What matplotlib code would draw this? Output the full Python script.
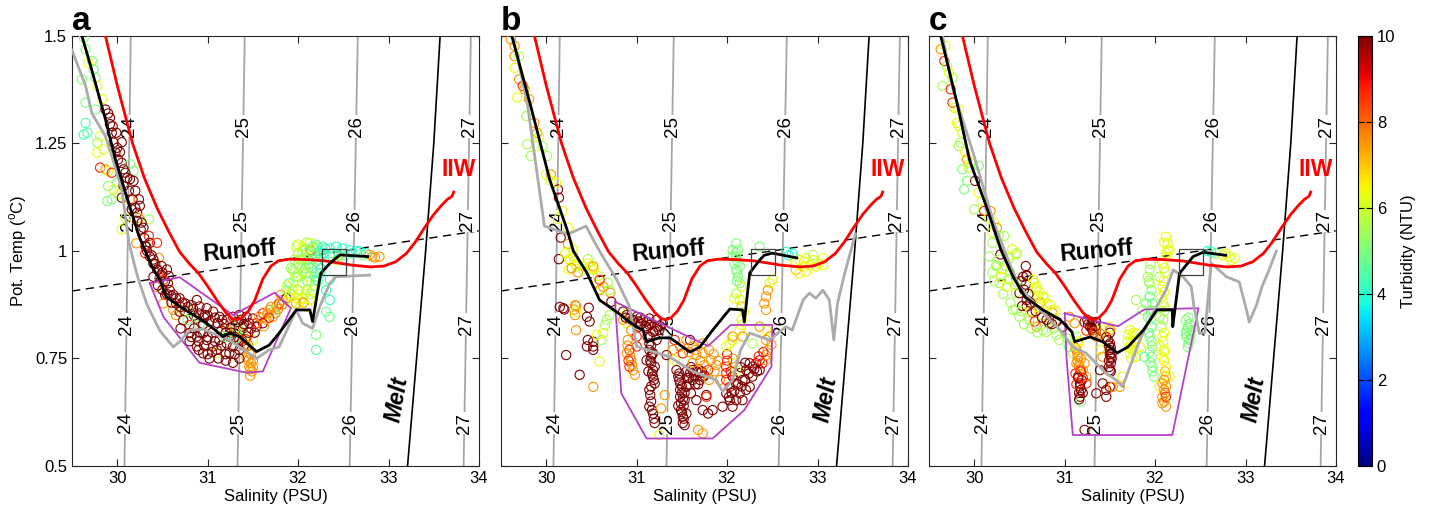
import matplotlib.pyplot as plt
import numpy as np
from matplotlib import cm, colors
from matplotlib.patches import Rectangle

plt.rcParams['font.family'] = ['Liberation Sans', 'DejaVu Sans']

# sigma-t isopycnals: salinity at 0.5 degC and at 1.5 degC
sigma_levels = [24, 25, 26, 27]
sigma_sal_cold = [30.08, 31.33, 32.57, 33.83]
sigma_sal_warm = [30.15, 31.41, 32.66, 33.91]
sigma_label_temps = [1.29, 1.07, 0.83, 0.60]

# runoff mixing line and meltwater line
runoff_line = [(29.5, 0.907), (34.0, 1.047)]
melt_line = [(33.21, 0.5), (33.31, 0.75), (33.41, 1.0), (33.5, 1.25), (33.57, 1.5)]

# IIW reference profile (same in every panel)
iiw_line = [(29.87, 1.5), (30.0, 1.385), (30.17, 1.25), (30.3, 1.17), (30.44, 1.10),
            (30.57, 1.045), (30.69, 0.998), (30.8, 0.97), (30.9, 0.948), (31.0, 0.918),
            (31.1, 0.886), (31.2, 0.857), (31.27, 0.843), (31.32, 0.84), (31.38, 0.845),
            (31.45, 0.86), (31.52, 0.885), (31.61, 0.935), (31.7, 0.965), (31.78, 0.977),
            (31.9, 0.981), (32.1, 0.98), (32.3, 0.977), (32.45, 0.972), (32.6, 0.967),
            (32.8, 0.963), (32.95, 0.965), (33.08, 0.975), (33.2, 0.995), (33.3, 1.022),
            (33.4, 1.055), (33.5, 1.085), (33.58, 1.105), (33.65, 1.12), (33.7, 1.127),
            (33.72, 1.137)]

# box around the offshore end member
box_sal = (32.26, 32.53)
box_temp = (0.944, 1.004)

# ---- panel a ----
mean_a = [(29.61, 1.5), (29.72, 1.42), (29.87, 1.306), (29.98, 1.213), (30.09, 1.136),
          (30.24, 1.035), (30.38, 0.965), (30.47, 0.934), (30.54, 0.894), (30.69, 0.871),
          (30.99, 0.832), (31.17, 0.801), (31.24, 0.809), (31.35, 0.801), (31.54, 0.766),
          (31.68, 0.781), (31.79, 0.809), (31.98, 0.863), (32.13, 0.863), (32.16, 0.836),
          (32.25, 0.948), (32.35, 0.971), (32.46, 0.991), (32.77, 0.987)]
prior_a = [(29.5, 1.467), (29.65, 1.384), (29.72, 1.32), (29.87, 1.267), (29.94, 1.221),
           (30.05, 1.143), (30.09, 1.081), (30.13, 1.019), (30.2, 0.96), (30.24, 0.93),
           (30.33, 0.875), (30.47, 0.815), (30.62, 0.777), (30.69, 0.789), (30.8, 0.816),
           (30.95, 0.818), (31.24, 0.793), (31.54, 0.75), (31.68, 0.77), (31.79, 0.777),
           (31.98, 0.863), (32.05, 0.832), (32.16, 0.82), (32.24, 0.871), (32.35, 0.925),
           (32.42, 0.94), (32.79, 0.944)]
hull_a = [(30.36, 0.925), (30.69, 0.939), (31.28, 0.851), (31.74, 0.903), (31.92, 0.867),
          (31.61, 0.72), (31.43, 0.717), (30.91, 0.74), (30.51, 0.847), (30.36, 0.925)]
obs_a = [
    (29.63, 1.496, 5.0), (29.65, 1.469, 5.0), (29.72, 1.442, 5.0), (29.68, 1.438, 6.3),
    (29.74, 1.422, 4.8), (29.76, 1.403, 5.0), (29.61, 1.399, 5.0), (29.78, 1.384, 6.3),
    (29.83, 1.353, 6.3), (29.65, 1.345, 5.0), (29.76, 1.329, 5.0), (29.87, 1.329, 10),
    (29.92, 1.31, 10), (29.65, 1.298, 4.5), (29.67, 1.275, 4.5), (29.63, 1.271, 4.3),
    (29.92, 1.295, 10), (29.94, 1.275, 10), (29.81, 1.267, 6.3), (29.99, 1.275, 10),
    (30.05, 1.253, 10), (29.78, 1.252, 5.2), (29.96, 1.252, 10), (29.78, 1.229, 6.3),
    (29.85, 1.236, 6.2), (29.98, 1.229, 9.8), (30.01, 1.213, 10), (30.05, 1.205, 10),
    (30.14, 1.202, 5.0), (29.81, 1.194, 8.7), (29.87, 1.19, 7.5), (29.9, 1.186, 6.3),
    (29.94, 1.182, 8.7), (30.18, 1.186, 5.0), (30.09, 1.182, 10), (30.14, 1.167, 10),
    (30.18, 1.163, 10), (30.0, 1.159, 5.0), (29.9, 1.151, 5.2), (30.07, 1.151, 10),
    (29.96, 1.143, 6.3), (30.2, 1.14, 10), (30.01, 1.132, 6.3), (29.89, 1.116, 5.0),
    (30.05, 1.124, 10), (30.24, 1.12, 10), (29.94, 1.12, 5.0), (30.14, 1.12, 7.5),
    (30.25, 1.105, 10), (30.16, 1.097, 10), (30.22, 1.089, 10), (30.24, 1.077, 7.5),
    (30.09, 1.077, 6.3), (30.35, 1.074, 5.5), (30.27, 1.066, 10), (30.05, 1.05, 6.3),
    (30.29, 1.054, 10), (30.35, 1.035, 8.7), (30.36, 1.019, 10), (30.44, 1.019, 8.7),
    (30.31, 1.012, 10), (30.46, 0.984, 7.5), (30.4, 0.98, 10), (30.49, 0.965, 10),
    (30.55, 0.957, 10), (30.44, 0.957, 10), (30.57, 0.942, 10), (30.47, 0.938, 8.7),
    (30.0, 1.24, 10), (30.03, 1.23, 10), (30.07, 1.19, 10), (30.11, 1.17, 10),
    (30.13, 1.14, 10), (30.17, 1.12, 10), (30.2, 1.1, 10), (30.22, 1.07, 10),
    (30.26, 1.05, 10), (30.3, 1.03, 10), (30.33, 1.0, 10), (30.38, 0.99, 10),
    (30.42, 0.97, 10), (30.5, 0.95, 10), (30.53, 0.93, 10), (29.95, 1.29, 10),
    (29.9, 1.32, 10),
    (30.21, 1.018, 7.5), (30.32, 1.01, 10), (30.31, 0.995, 8.7), (30.36, 0.987, 10),
    (30.4, 0.971, 10), (30.45, 0.956, 10), (30.49, 0.944, 10), (30.51, 0.933, 8.7),
    (30.56, 0.925, 10), (30.43, 0.917, 7.5), (30.58, 0.909, 10), (30.53, 0.898, 10),
    (30.62, 0.898, 10), (30.69, 0.89, 10), (30.65, 0.878, 10), (30.75, 0.878, 10),
    (30.51, 0.878, 7.5), (30.82, 0.874, 10), (30.88, 0.886, 10), (30.91, 0.871, 10),
    (30.62, 0.863, 7.5), (30.69, 0.859, 10), (30.78, 0.859, 5.0), (30.99, 0.867, 10),
    (31.06, 0.859, 10), (30.97, 0.851, 10), (30.65, 0.851, 7.5), (30.88, 0.843, 10),
    (30.73, 0.839, 10), (31.13, 0.847, 10), (31.02, 0.836, 10), (30.8, 0.828, 8.7),
    (30.91, 0.828, 5.0), (31.11, 0.832, 10), (31.21, 0.84, 10), (31.28, 0.847, 10),
    (31.35, 0.851, 10), (31.43, 0.847, 10), (31.5, 0.843, 10), (31.46, 0.832, 10),
    (31.39, 0.824, 10), (31.28, 0.828, 7.5), (31.32, 0.816, 5.0), (31.21, 0.82, 7.5),
    (31.54, 0.824, 10), (30.8, 0.809, 10), (30.88, 0.801, 10), (30.95, 0.809, 10),
    (30.99, 0.793, 10), (30.88, 0.778, 10), (30.95, 0.762, 10), (31.06, 0.778, 10),
    (31.1, 0.762, 6.3), (31.02, 0.75, 10), (31.13, 0.793, 10), (31.21, 0.785, 10),
    (31.24, 0.801, 10), (31.28, 0.778, 10), (31.35, 0.793, 10), (31.35, 0.77, 10),
    (31.24, 0.762, 10), (31.43, 0.801, 10), (31.43, 0.778, 10), (31.46, 0.762, 7.5),
    (31.45, 0.746, 7.5), (31.46, 0.731, 7.5), (31.48, 0.739, 7.5), (31.43, 0.754, 7.5),
    (31.47, 0.725, 7.5), (31.5, 0.793, 6.3), (31.39, 0.809, 6.3), (31.35, 0.816, 5.0),
    (30.75, 0.86, 10), (30.85, 0.85, 10), (30.95, 0.83, 10), (31.05, 0.81, 10),
    (31.15, 0.815, 10), (31.25, 0.82, 10), (31.3, 0.8, 10), (31.4, 0.78, 10),
    (31.45, 0.81, 10), (31.1, 0.77, 10), (30.9, 0.79, 10), (30.8, 0.79, 10),
    (30.7, 0.82, 10), (31.0, 0.76, 10), (31.2, 0.76, 10), (31.3, 0.76, 10),
    (30.6, 0.88, 10), (30.7, 0.87, 10),
    (30.4, 0.94, 10), (30.45, 0.92, 10), (30.5, 0.91, 10), (30.55, 0.9, 10),
    (30.6, 0.895, 10), (30.65, 0.89, 10), (30.72, 0.88, 10), (30.78, 0.87, 10),
    (30.84, 0.865, 10), (30.9, 0.855, 10), (30.96, 0.845, 10), (31.0, 0.85, 10),
    (31.08, 0.845, 10), (31.16, 0.84, 10), (31.18, 0.83, 10), (31.2, 0.81, 10),
    (31.26, 0.81, 10), (31.33, 0.835, 10), (31.37, 0.84, 10), (31.4, 0.83, 10),
    (31.48, 0.82, 10), (31.52, 0.81, 10), (30.85, 0.82, 10), (30.92, 0.81, 10),
    (31.0, 0.8, 10), (31.08, 0.79, 10), (31.15, 0.78, 10), (30.82, 0.8, 10),
    (30.9, 0.77, 10), (30.96, 0.78, 10), (31.05, 0.765, 10), (31.12, 0.75, 10),
    (31.2, 0.745, 10), (31.28, 0.74, 10), (31.35, 0.75, 10), (31.38, 0.79, 10),
    (31.42, 0.795, 8.7), (31.45, 0.78, 7.5), (31.48, 0.76, 7.5), (31.5, 0.745, 7.5),
    (31.5, 0.73, 7.5), (31.49, 0.72, 7.5), (31.47, 0.71, 7.5),
    (31.2, 0.8, 5.0), (31.3, 0.795, 5.0), (30.78, 0.84, 5.0),
    (31.57, 0.847, 7.5), (31.61, 0.855, 8.7), (31.65, 0.84, 7.5), (31.68, 0.863, 7.5),
    (31.72, 0.847, 7.5), (31.76, 0.871, 7.5), (31.79, 0.878, 8.7), (31.83, 0.886, 7.5),
    (31.61, 0.832, 10), (31.54, 0.832, 8.7), (31.74, 0.863, 5.0), (31.87, 0.89, 10),
    (31.81, 0.898, 7.5), (31.6, 0.845, 7.5), (31.66, 0.855, 7.5), (31.7, 0.87, 7.5),
    (31.78, 0.865, 7.5), (31.82, 0.875, 8.0), (31.75, 0.855, 7.5), (31.62, 0.825, 7.5),
    (31.68, 0.845, 8.7),
    (31.9, 0.894, 6.3), (31.94, 0.909, 6.3), (31.98, 0.878, 7.5), (32.02, 0.886, 6.3),
    (31.87, 0.909, 5.0), (31.9, 0.925, 5.0), (31.98, 0.94, 5.0), (32.05, 0.925, 6.3),
    (31.94, 0.956, 5.2), (32.02, 0.964, 6.3), (32.09, 0.948, 5.2), (32.05, 0.979, 6.3),
    (32.13, 0.971, 5.0), (32.16, 0.909, 6.3), (32.13, 0.886, 6.3), (32.2, 0.933, 4.5),
    (32.05, 1.01, 6.3), (32.13, 1.018, 6.3), (32.2, 1.01, 5.0), (32.09, 0.995, 5.0),
    (32.18, 0.991, 6.3), (32.14, 1.002, 8.7), (32.0, 0.995, 5.5), (32.1, 0.98, 5.5),
    (32.15, 0.96, 6.0), (32.0, 0.94, 5.5), (32.05, 0.95, 6.0), (32.1, 0.93, 5.0),
    (31.95, 0.93, 6.0), (32.2, 0.975, 4.5), (32.25, 0.99, 4.2), (32.2, 0.95, 4.5),
    (32.25, 0.96, 4.3), (32.3, 0.975, 4.2), (31.92, 0.9, 6.0), (32.0, 0.91, 5.5),
    (32.08, 0.9, 6.0), (31.97, 0.89, 6.3), (32.05, 1.0, 5.5), (32.15, 1.0, 5.5),
    (32.12, 0.94, 5.8), (32.18, 0.92, 5.5), (32.1, 1.02, 5.5), (32.2, 1.015, 5.0),
    (32.0, 1.015, 6.0),
    (31.88, 0.92, 6.0), (31.92, 0.96, 5.5), (31.96, 0.98, 5.5), (32.0, 0.97, 5.0),
    (32.04, 0.96, 5.5), (32.08, 0.96, 5.0), (32.12, 0.97, 5.0), (32.16, 0.98, 4.8),
    (32.2, 0.99, 4.5), (32.24, 1.0, 4.3), (32.28, 0.995, 4.2), (32.3, 1.005, 4.0),
    (32.0, 0.9, 6.3), (32.04, 0.89, 6.3), (32.06, 0.88, 7.5), (31.94, 0.88, 6.3),
    (32.1, 0.91, 5.5), (32.14, 0.9, 5.5), (32.18, 0.94, 4.8), (32.22, 0.93, 4.5),
    (32.1, 0.87, 6.3), (31.96, 0.95, 5.8), (32.02, 0.98, 5.5), (32.16, 1.01, 5.0),
    (32.08, 1.005, 5.5), (31.98, 1.01, 6.0),
    (32.27, 1.01, 4.2), (32.35, 1.006, 4.2), (32.42, 1.01, 4.2), (32.49, 1.006, 4.0),
    (32.57, 1.002, 4.0), (32.68, 0.999, 4.0), (32.75, 0.995, 4.0), (32.35, 0.987, 4.8),
    (32.42, 0.979, 6.3), (32.49, 0.979, 7.5), (32.82, 0.987, 7.5), (32.9, 0.987, 7.5),
    (32.79, 0.991, 7.5), (32.35, 0.933, 4.2), (32.35, 0.886, 4.2), (32.31, 0.859, 4.8),
    (32.35, 0.847, 4.8), (32.2, 0.805, 5.0), (32.2, 0.77, 4.5), (32.24, 0.948, 4.2),
    (32.31, 0.909, 4.2), (32.38, 0.995, 4.2), (32.45, 0.99, 4.5), (32.52, 0.99, 5.0),
    (32.6, 0.995, 4.0), (32.64, 1.0, 4.0), (32.72, 0.99, 5.0), (32.85, 0.985, 7.5),
]

# ---- panel b ----
mean_b = [(29.62, 1.5), (29.82, 1.344), (30.04, 1.165), (30.23, 1.05), (30.3, 1.0),
          (30.45, 0.949), (30.59, 0.886), (30.78, 0.858), (31.0, 0.823), (31.07, 0.816),
          (31.11, 0.789), (31.25, 0.798), (31.37, 0.798), (31.59, 0.765), (31.7, 0.777),
          (31.84, 0.816), (32.03, 0.865), (32.17, 0.863), (32.19, 0.835), (32.25, 0.949),
          (32.36, 0.979), (32.41, 0.99), (32.5, 0.995), (32.77, 0.984)]
prior_b = [(29.63, 1.5), (29.79, 1.345), (29.98, 1.058), (30.24, 1.039), (30.44, 1.058),
           (30.52, 1.026), (30.6, 0.996), (30.78, 0.933), (30.92, 0.871), (31.0, 0.778),
           (31.36, 0.754), (31.62, 0.72), (31.88, 0.70), (31.95, 0.673), (32.06, 0.70),
           (32.15, 0.77), (32.25, 0.809), (32.36, 0.801), (32.47, 0.793), (32.65, 0.824),
           (32.72, 0.816), (32.84, 0.886), (32.91, 0.902), (32.98, 0.89), (33.06, 0.909),
           (33.13, 0.886), (33.18, 0.793), (33.22, 0.878), (33.3, 0.948), (33.37, 1.002),
           (33.42, 1.04)]
hull_b = [(30.76, 0.882), (30.83, 0.669), (31.11, 0.564), (31.84, 0.564), (32.19, 0.63),
          (32.49, 0.731), (32.5, 0.828), (32.04, 0.828), (31.79, 0.779), (30.76, 0.882)]
obs_b = [
    (29.61, 1.492, 7.5), (29.65, 1.477, 7.5), (29.65, 1.453, 7.5), (29.7, 1.453, 5.5),
    (29.65, 1.426, 6.3), (29.7, 1.399, 7.5), (29.74, 1.384, 8.7), (29.76, 1.376, 7.5),
    (29.68, 1.357, 6.3), (29.81, 1.353, 7.5), (29.78, 1.314, 5.5), (29.87, 1.298, 7.5),
    (29.9, 1.275, 7.5), (29.92, 1.267, 6.3), (29.79, 1.248, 5.5), (29.89, 1.244, 6.3),
    (29.96, 1.244, 5.5), (29.83, 1.221, 5.5), (30.01, 1.221, 5.5), (30.0, 1.178, 6.3),
    (30.05, 1.178, 7.5), (30.05, 1.163, 6.3), (30.13, 1.143, 10), (30.11, 1.159, 6.3),
    (30.14, 1.124, 9.8), (30.18, 1.093, 6.3), (30.13, 1.074, 6.3), (30.24, 1.054, 6.3),
    (30.16, 1.031, 10), (30.24, 1.016, 7.5), (30.29, 1.004, 6.3), (30.14, 0.981, 10),
    (30.25, 0.981, 6.3), (30.31, 0.977, 6.3), (30.46, 0.981, 5.5), (30.25, 0.957, 6.3),
    (30.4, 0.965, 6.3), (30.49, 0.965, 6.3), (30.53, 0.957, 6.3), (30.35, 0.95, 7.5),
    (30.57, 0.942, 6.3), (30.68, 0.926, 5.5), (30.6, 0.911, 6.3), (30.71, 0.903, 7.5),
    (30.2, 0.864, 10), (30.33, 0.872, 7.5), (30.31, 0.864, 7.5), (30.47, 0.868, 10),
    (30.21, 0.995, 6.3), (30.26, 0.979, 6.3), (30.3, 0.987, 6.3), (30.33, 0.964, 6.3),
    (30.28, 0.96, 7.5), (30.41, 0.956, 5.5), (30.46, 0.971, 6.3), (30.52, 0.964, 7.5),
    (30.52, 0.94, 6.3), (30.59, 0.933, 8.7), (30.63, 0.917, 7.5), (30.59, 0.909, 7.5),
    (30.7, 0.909, 5.5), (30.72, 0.882, 10), (30.19, 0.867, 10), (30.15, 0.87, 10),
    (30.32, 0.874, 7.5), (30.32, 0.851, 7.5), (30.33, 0.859, 6.3), (30.45, 0.847, 10),
    (30.48, 0.836, 10), (30.65, 0.828, 5.5), (30.67, 0.84, 5.5), (30.7, 0.851, 5.5),
    (30.33, 0.816, 7.5), (30.46, 0.793, 10), (30.52, 0.789, 10), (30.45, 0.778, 10),
    (30.52, 0.778, 10), (30.52, 0.77, 10), (30.22, 0.758, 10), (30.63, 0.809, 6.3),
    (30.56, 0.805, 6.3), (30.61, 0.793, 5.5), (30.59, 0.743, 6.3), (30.37, 0.712, 10),
    (30.52, 0.684, 7.5),
    (30.81, 0.867, 6.3), (30.85, 0.859, 10), (30.89, 0.851, 10), (30.92, 0.843, 10),
    (30.96, 0.839, 10), (31.02, 0.836, 10), (31.07, 0.839, 10), (31.11, 0.836, 10),
    (31.14, 0.828, 10), (31.22, 0.824, 10), (31.25, 0.816, 10), (31.11, 0.82, 10),
    (31.18, 0.812, 10), (31.03, 0.824, 10), (31.0, 0.847, 10), (31.14, 0.843, 10),
    (31.22, 0.84, 10), (31.29, 0.832, 10), (30.89, 0.832, 6.3), (30.94, 0.816, 7.5),
    (30.85, 0.84, 7.5), (30.88, 0.845, 10), (30.95, 0.84, 10), (31.05, 0.83, 10),
    (31.1, 0.825, 10), (31.16, 0.83, 10), (31.2, 0.815, 10), (31.26, 0.825, 10),
    (31.04, 0.845, 10),
    (30.9, 0.793, 7.5), (30.92, 0.77, 8.7), (30.94, 0.746, 7.5), (30.96, 0.723, 7.5),
    (30.98, 0.712, 7.5), (30.92, 0.731, 8.7), (30.89, 0.762, 7.5), (31.0, 0.801, 8.7),
    (31.0, 0.778, 8.7), (30.9, 0.78, 7.5), (30.93, 0.755, 7.5), (30.95, 0.735, 7.5),
    (30.91, 0.745, 8.7),
    (31.12, 0.801, 10), (31.14, 0.785, 10), (31.14, 0.77, 10), (31.16, 0.754, 10),
    (31.16, 0.739, 10), (31.18, 0.723, 10), (31.18, 0.708, 10), (31.2, 0.692, 10),
    (31.22, 0.793, 10), (31.18, 0.762, 10), (31.11, 0.746, 10), (31.2, 0.731, 10),
    (31.14, 0.677, 10), (31.14, 0.638, 10), (31.18, 0.622, 10), (31.2, 0.6, 10),
    (31.15, 0.8, 10), (31.16, 0.78, 10), (31.17, 0.76, 10), (31.15, 0.745, 10),
    (31.17, 0.715, 10), (31.19, 0.7, 10), (31.16, 0.685, 10), (31.15, 0.665, 10),
    (31.16, 0.65, 10), (31.17, 0.63, 10), (31.19, 0.61, 10), (31.13, 0.72, 10),
    (31.31, 0.665, 7.5), (31.27, 0.634, 7.5), (31.33, 0.758, 10),
    (31.42, 0.793, 8.7), (31.4, 0.77, 7.5), (31.42, 0.746, 6.3), (31.44, 0.723, 10),
    (31.46, 0.708, 10), (31.48, 0.692, 10), (31.48, 0.677, 10), (31.48, 0.661, 10),
    (31.49, 0.646, 10), (31.49, 0.63, 10), (31.51, 0.615, 10), (31.51, 0.6, 10),
    (31.55, 0.622, 10), (31.53, 0.653, 10), (31.55, 0.684, 10), (31.59, 0.716, 10),
    (31.47, 0.7, 10), (31.5, 0.685, 10), (31.5, 0.67, 10), (31.51, 0.655, 10),
    (31.52, 0.64, 10), (31.5, 0.625, 10), (31.52, 0.61, 10), (31.53, 0.595, 10),
    (31.47, 0.715, 10), (31.53, 0.67, 10), (31.46, 0.64, 10), (31.56, 0.705, 10),
    (31.58, 0.69, 10),
    (31.55, 0.72, 10), (31.62, 0.723, 10), (31.66, 0.72, 10), (31.7, 0.716, 10),
    (31.7, 0.7, 10), (31.73, 0.708, 10), (31.62, 0.7, 10), (31.6, 0.669, 10),
    (31.66, 0.653, 10), (31.73, 0.63, 10), (31.79, 0.622, 10), (31.84, 0.63, 10),
    (31.77, 0.665, 10), (31.77, 0.661, 8.7), (31.6, 0.73, 10), (31.64, 0.71, 10),
    (31.68, 0.725, 10), (31.72, 0.72, 10), (31.68, 0.69, 10), (31.65, 0.69, 10),
    (31.75, 0.71, 10), (31.58, 0.705, 10),
    (31.48, 0.778, 7.5), (31.51, 0.762, 9.0), (31.55, 0.793, 7.5), (31.59, 0.793, 10),
    (31.62, 0.778, 7.5), (31.66, 0.758, 7.5), (31.73, 0.762, 7.5), (31.73, 0.785, 7.5),
    (31.8, 0.77, 7.5), (31.82, 0.746, 7.5), (31.88, 0.735, 7.5), (31.79, 0.723, 8.7),
    (31.86, 0.72, 7.5), (31.92, 0.7, 7.5), (31.8, 0.7, 7.5), (31.68, 0.584, 7.5),
    (31.73, 0.576, 7.5), (31.25, 0.572, 6.3), (31.58, 0.765, 7.5), (31.65, 0.77, 7.5),
    (31.7, 0.745, 7.5), (31.75, 0.735, 7.5), (31.85, 0.76, 7.5), (31.9, 0.745, 7.5),
    (31.62, 0.74, 7.5),
    (31.99, 0.731, 8.7), (31.99, 0.716, 8.7), (31.99, 0.7, 8.7), (32.03, 0.684, 9.0),
    (31.99, 0.669, 10), (32.03, 0.653, 10), (31.95, 0.638, 10), (32.06, 0.708, 10),
    (32.1, 0.692, 10), (32.14, 0.716, 10), (32.17, 0.7, 10), (32.14, 0.669, 10),
    (32.17, 0.653, 10), (32.1, 0.653, 10), (32.06, 0.638, 10), (32.21, 0.723, 10),
    (32.25, 0.739, 10), (32.28, 0.731, 10), (32.32, 0.739, 9.0), (32.36, 0.746, 9.0),
    (32.39, 0.739, 9.0), (32.43, 0.746, 7.5), (32.36, 0.723, 10), (32.28, 0.708, 10),
    (32.25, 0.684, 10), (32.21, 0.677, 10), (32.43, 0.758, 7.5), (32.1, 0.723, 6.3),
    (32.06, 0.739, 6.3), (32.06, 0.75, 7.5), (32.02, 0.66, 10), (32.05, 0.67, 10),
    (32.08, 0.675, 10), (32.12, 0.69, 10), (32.16, 0.685, 10), (32.2, 0.7, 10),
    (32.24, 0.715, 10), (32.3, 0.725, 10), (32.33, 0.72, 10), (32.2, 0.74, 10),
    (32.15, 0.73, 10), (32.04, 0.72, 9.0), (32.0, 0.745, 8.7), (32.0, 0.76, 8.7),
    (32.35, 0.755, 8.7), (32.4, 0.765, 9.0), (32.45, 0.77, 7.5),
    (31.99, 0.778, 6.3), (32.03, 0.785, 6.3), (32.06, 0.793, 6.3), (32.06, 0.801, 7.5),
    (32.14, 0.816, 6.3), (32.17, 0.801, 7.5), (32.16, 0.828, 6.3), (32.28, 0.785, 5.5),
    (32.36, 0.824, 7.5), (32.43, 0.816, 6.3), (32.47, 0.801, 7.5), (32.43, 0.793, 7.5),
    (32.49, 0.782, 7.5),
    (32.1, 1.018, 5.0), (32.12, 1.002, 5.0), (32.1, 0.987, 5.0), (32.08, 0.971, 5.0),
    (32.14, 0.964, 5.0), (32.1, 0.956, 5.0), (32.12, 0.94, 5.0), (32.14, 0.925, 5.3),
    (32.16, 0.917, 6.3), (32.1, 0.901, 5.5), (32.08, 0.89, 6.3), (32.14, 0.886, 6.3),
    (32.16, 0.871, 7.0), (32.19, 0.859, 6.3), (32.16, 0.84, 6.3), (32.06, 1.002, 5.0),
    (32.06, 0.987, 5.0), (32.1, 0.995, 5.0), (32.12, 0.975, 5.0), (32.11, 0.95, 5.0),
    (32.11, 0.93, 5.0),
    (32.5, 0.933, 6.3), (32.47, 0.925, 6.3), (32.45, 0.909, 7.5), (32.43, 0.894, 7.5),
    (32.41, 0.878, 7.5), (32.43, 0.863, 7.5), (32.36, 1.01, 5.0),
    (32.65, 0.998, 4.0), (32.72, 0.994, 4.0), (32.8, 0.979, 6.3), (32.87, 0.983, 6.3),
    (32.95, 0.979, 6.3), (33.02, 0.971, 6.3), (32.84, 0.964, 6.5), (32.76, 0.956, 7.0),
    (32.8, 0.948, 6.5), (32.91, 0.967, 6.3), (32.98, 0.964, 6.3), (33.06, 0.967, 6.3),
    (32.95, 0.991, 5.5), (33.06, 0.983, 6.3), (32.87, 0.952, 6.5), (32.68, 0.99, 4.0),
    (32.75, 0.975, 6.3), (32.85, 0.975, 6.3),
]

# ---- panel c ----
mean_c = [(29.63, 1.5), (29.81, 1.344), (29.95, 1.21), (30.14, 1.10), (30.3, 1.0),
          (30.43, 0.94), (30.56, 0.893), (30.76, 0.863), (30.95, 0.84), (31.08, 0.812),
          (31.11, 0.789), (31.28, 0.80), (31.42, 0.789), (31.58, 0.763), (31.7, 0.777),
          (31.87, 0.816), (32.02, 0.863), (32.19, 0.863), (32.195, 0.824), (32.27, 0.948),
          (32.42, 0.987), (32.53, 0.997), (32.78, 0.99)]
prior_c = [(29.65, 1.5), (29.76, 1.38), (29.99, 1.227), (30.21, 1.07), (30.39, 0.971),
           (30.5, 0.916), (30.73, 0.863), (30.95, 0.816), (31.09, 0.777), (31.24, 0.762),
           (31.39, 0.73), (31.46, 0.715), (31.57, 0.70), (31.64, 0.684), (31.72, 0.73),
           (31.83, 0.793), (31.975, 0.855), (32.12, 0.909), (32.2, 0.956), (32.31, 0.94),
           (32.4, 0.917), (32.43, 0.87), (32.49, 0.808), (32.55, 0.81), (32.62, 0.972),
           (32.79, 0.94), (32.93, 0.928), (33.01, 0.863), (33.04, 0.835), (33.12, 0.874),
           (33.18, 0.916), (33.26, 0.956), (33.34, 1.0)]
hull_c = [(31.0, 0.855), (31.02, 0.753), (31.09, 0.572), (32.19, 0.572), (32.48, 0.867),
          (31.88, 0.864), (31.59, 0.825), (31.0, 0.855)]
obs_c = [
    (29.63, 1.469, 7.5), (29.68, 1.477, 6.3), (29.67, 1.442, 8.7), (29.7, 1.43, 5.5),
    (29.72, 1.415, 6.3), (29.76, 1.403, 5.5), (29.65, 1.384, 5.5), (29.74, 1.376, 8.7),
    (29.76, 1.345, 8.7), (29.78, 1.333, 6.3), (29.83, 1.329, 6.3), (29.81, 1.298, 6.3),
    (29.83, 1.291, 6.3), (29.87, 1.275, 6.3), (29.85, 1.252, 5.5), (29.83, 1.244, 5.5),
    (29.9, 1.229, 6.3), (29.92, 1.213, 7.5), (29.96, 1.205, 6.3), (29.94, 1.194, 6.3),
    (29.87, 1.19, 5.0), (30.05, 1.198, 5.0), (30.01, 1.163, 10), (29.92, 1.163, 5.0),
    (29.89, 1.143, 5.0), (30.05, 1.136, 6.3), (30.09, 1.116, 6.3), (30.0, 1.097, 5.5),
    (30.11, 1.093, 8.7), (30.18, 1.093, 7.5), (30.16, 1.078, 6.3), (30.22, 1.066, 6.3),
    (30.2, 1.043, 6.3), (30.25, 1.054, 7.5), (30.27, 1.035, 5.5), (30.33, 1.035, 5.5),
    (30.2, 1.019, 5.5), (30.29, 0.992, 10), (30.42, 1.004, 6.3), (30.46, 0.992, 6.3),
    (30.38, 0.988, 6.3), (30.24, 0.965, 5.5), (30.31, 0.957, 6.3), (30.35, 0.965, 5.5),
    (30.57, 0.965, 10), (30.58, 0.942, 10), (30.57, 0.922, 10), (30.66, 0.926, 6.3),
    (30.68, 0.911, 6.3), (30.71, 0.895, 6.3), (30.73, 0.88, 7.5), (30.46, 0.903, 5.5),
    (30.38, 0.934, 5.5), (30.46, 0.864, 5.5), (30.6, 0.895, 5.5), (30.64, 0.857, 8.7),
    (30.53, 0.872, 10), (30.86, 0.857, 7.5),
    (30.25, 0.967, 5.5), (30.17, 0.987, 5.5), (30.39, 0.983, 5.5), (30.47, 0.995, 5.5),
    (30.28, 0.925, 5.5), (30.36, 0.917, 6.3), (30.47, 0.929, 5.5), (30.54, 0.94, 10),
    (30.58, 0.944, 10), (30.5, 0.902, 10), (30.58, 0.886, 10), (30.58, 0.871, 10),
    (30.65, 0.933, 6.3), (30.69, 0.917, 6.3), (30.76, 0.894, 6.3), (30.8, 0.878, 6.3),
    (30.87, 0.863, 6.3), (30.43, 0.863, 5.5), (30.5, 0.847, 5.5), (30.61, 0.84, 5.5),
    (30.69, 0.824, 7.5), (30.76, 0.816, 5.5), (30.83, 0.832, 10), (30.8, 0.812, 5.5),
    (30.91, 0.805, 5.5), (30.94, 0.793, 5.5), (30.67, 0.836, 8.7), (30.91, 0.836, 10),
    (30.98, 0.824, 10), (31.05, 0.847, 7.5), (31.02, 0.797, 5.5), (31.05, 0.777, 4.5),
    (30.2, 0.95, 5.5), (30.22, 0.93, 5.5), (30.3, 0.94, 6.3), (30.32, 0.9, 5.5),
    (30.4, 0.88, 5.5), (30.45, 0.92, 6.3), (30.52, 0.86, 5.5), (30.55, 0.83, 5.5),
    (30.62, 0.86, 6.3), (30.7, 0.87, 6.3), (30.75, 0.85, 5.5), (30.85, 0.84, 6.3),
    (30.88, 0.82, 5.5), (30.7, 0.81, 5.5), (30.63, 0.82, 5.5), (30.4, 0.95, 5.5),
    (30.28, 0.98, 5.5), (30.52, 0.93, 10), (30.55, 0.91, 10), (30.6, 0.9, 10),
    (30.62, 0.88, 10), (30.68, 0.86, 10), (30.75, 0.845, 10), (30.8, 0.84, 10),
    (30.86, 0.83, 10), (30.72, 0.905, 6.3), (30.78, 0.89, 6.3), (30.84, 0.875, 6.3),
    (30.9, 0.86, 6.3),
    (31.11, 0.832, 7.5), (31.13, 0.77, 7.5), (31.15, 0.754, 7.5), (31.13, 0.739, 7.5),
    (31.17, 0.723, 8.7), (31.15, 0.708, 10), (31.17, 0.692, 10), (31.18, 0.677, 10),
    (31.17, 0.661, 10), (31.18, 0.65, 5.0), (31.2, 0.723, 7.5), (31.22, 0.739, 7.5),
    (31.13, 0.801, 5.5), (31.09, 0.762, 5.5), (31.15, 0.785, 6.3), (31.24, 0.708, 7.5),
    (31.24, 0.692, 8.7), (31.22, 0.584, 10), (31.14, 0.745, 7.5), (31.16, 0.73, 7.5),
    (31.12, 0.715, 8.7), (31.19, 0.7, 10), (31.16, 0.67, 10), (31.14, 0.76, 7.5),
    (31.18, 0.75, 7.5), (31.16, 0.735, 7.5), (31.18, 0.72, 8.7), (31.15, 0.705, 10),
    (31.17, 0.685, 10), (31.16, 0.655, 10), (31.2, 0.67, 10), (31.13, 0.69, 8.7),
    (31.2, 0.705, 8.7), (31.12, 0.775, 7.5), (31.14, 0.79, 6.3),
    (31.28, 0.824, 10), (31.31, 0.816, 10), (31.35, 0.816, 7.5), (31.39, 0.808, 7.5),
    (31.42, 0.816, 6.3), (31.5, 0.824, 6.3), (31.35, 0.801, 7.5), (31.39, 0.77, 6.3),
    (31.42, 0.754, 7.5), (31.39, 0.723, 10), (31.42, 0.692, 10), (31.46, 0.677, 10),
    (31.5, 0.684, 10), (31.46, 0.661, 10), (31.35, 0.669, 10), (31.22, 0.835, 10),
    (31.26, 0.83, 10), (31.3, 0.82, 10), (31.24, 0.815, 8.7), (31.25, 0.84, 10),
    (31.3, 0.835, 10), (31.34, 0.825, 10), (31.32, 0.81, 8.7),
    (31.5, 0.785, 10), (31.5, 0.77, 10), (31.51, 0.754, 10), (31.51, 0.739, 10),
    (31.5, 0.723, 10), (31.48, 0.793, 10), (31.52, 0.762, 10), (31.49, 0.745, 10),
    (31.49, 0.78, 10), (31.51, 0.775, 10), (31.5, 0.76, 10), (31.52, 0.75, 10),
    (31.49, 0.73, 10), (31.51, 0.72, 10), (31.5, 0.81, 10), (31.46, 0.8, 10),
    (31.53, 0.684, 7.5), (31.61, 0.684, 7.5), (31.64, 0.708, 6.3), (31.5, 0.816, 7.5),
    (31.72, 0.816, 6.3), (31.75, 0.801, 6.3), (31.73, 0.785, 6.3), (31.75, 0.77, 6.3),
    (31.79, 0.808, 6.3), (31.83, 0.777, 6.3), (31.79, 0.754, 6.5), (31.72, 0.762, 6.3),
    (31.77, 0.79, 6.3), (31.74, 0.75, 6.3), (31.7, 0.79, 6.3), (31.76, 0.81, 6.3),
    (31.8, 0.795, 6.3), (31.78, 0.77, 6.3), (31.72, 0.775, 6.3), (31.7, 0.805, 6.3),
    (31.79, 0.886, 5.5), (31.86, 0.863, 5.5), (31.9, 0.878, 5.0),
    (31.94, 0.956, 5.5), (31.92, 0.94, 5.5), (31.94, 0.925, 5.5), (31.96, 0.909, 5.3),
    (31.94, 0.894, 4.5), (31.97, 0.878, 5.0), (31.92, 0.847, 5.0), (31.96, 0.824, 4.5),
    (31.94, 0.801, 5.0), (31.97, 0.778, 5.0), (31.96, 0.754, 5.0), (31.97, 0.731, 5.0),
    (31.99, 0.708, 5.0), (31.88, 0.754, 4.5), (31.95, 0.97, 5.5), (31.98, 0.86, 5.0),
    (31.93, 0.93, 5.5), (31.95, 0.86, 5.0), (31.95, 0.84, 5.0), (31.93, 0.81, 5.0),
    (31.96, 0.79, 5.0), (31.94, 0.765, 5.0), (31.95, 0.74, 5.0), (31.97, 0.72, 5.0),
    (32.12, 0.995, 6.3), (32.14, 1.002, 6.3), (32.08, 0.971, 6.3), (32.05, 0.94, 5.5),
    (32.08, 0.917, 6.3), (32.07, 0.894, 6.3), (32.05, 0.847, 5.5), (32.07, 0.824, 5.5),
    (32.08, 0.801, 6.3), (32.05, 0.778, 6.3), (32.08, 0.754, 6.3), (32.12, 0.731, 6.5),
    (32.12, 0.708, 7.0), (32.08, 0.692, 7.5), (32.1, 0.677, 7.5), (32.08, 0.661, 7.5),
    (32.08, 0.646, 7.5), (32.12, 0.638, 7.5), (32.12, 0.661, 8.7), (32.05, 0.685, 6.5),
    (32.16, 0.708, 6.3), (32.12, 1.033, 6.3), (32.14, 1.018, 6.3), (32.16, 1.002, 6.3),
    (32.12, 0.987, 6.3), (32.1, 0.96, 6.0), (32.1, 0.87, 6.0), (32.1, 0.77, 6.3),
    (32.1, 1.02, 6.3), (32.11, 0.95, 6.3), (32.09, 0.93, 6.3), (32.1, 0.905, 6.3),
    (32.09, 0.88, 6.3), (32.1, 0.86, 5.5), (32.09, 0.84, 5.5), (32.1, 0.81, 6.3),
    (32.09, 0.79, 6.3), (32.1, 0.765, 6.3), (32.1, 0.745, 6.5), (32.11, 0.72, 7.0),
    (32.1, 0.7, 7.5), (32.12, 0.685, 7.5), (32.1, 0.65, 7.5), (32.11, 0.67, 8.0),
    (32.34, 0.839, 5.0), (32.36, 0.824, 5.0), (32.34, 0.808, 5.0), (32.38, 0.793, 5.0),
    (32.36, 0.777, 5.0), (32.4, 0.816, 5.0), (32.38, 0.83, 5.0), (32.35, 0.8, 5.0),
    (32.37, 0.785, 5.0), (32.39, 0.805, 5.0), (32.35, 0.815, 5.0), (32.37, 0.845, 5.0),
    (32.62, 0.998, 4.0), (32.67, 0.994, 5.0), (32.75, 0.99, 6.3), (32.82, 0.987, 6.3),
    (32.88, 0.983, 6.3), (32.78, 0.994, 6.3), (32.84, 0.979, 6.3), (32.58, 1.0, 4.0),
]

panels = [('a', obs_a, prior_a, mean_a, hull_a),
          ('b', obs_b, prior_b, mean_b, hull_b),
          ('c', obs_c, prior_c, mean_c, hull_c)]

W, H = 1434, 516
fig = plt.figure(figsize=(W / 100, H / 100), dpi=100)
cmap = cm.jet
norm = colors.Normalize(0, 10)


def xy(points):
    arr = np.array(points, dtype=float)
    return arr[:, 0], arr[:, 1]


def draw_background(ax):
    # isopycnals with inline labels
    for lev, s0, s1 in zip(sigma_levels, sigma_sal_cold, sigma_sal_warm):
        ax.plot([s0, s1], [0.5, 1.5], color='#a6a6a6', lw=1.3, zorder=1)
        for t in sigma_label_temps:
            s = s0 + (s1 - s0) * (t - 0.5)
            ax.text(s, t, str(lev), rotation=90, ha='center', va='center',
                    fontsize=13.5, zorder=1.6,
                    bbox=dict(facecolor='white', edgecolor='none', pad=0.5))
    rs, rt = xy(runoff_line)
    ax.plot(rs, rt, color='black', lw=1.0, dashes=(6, 4), zorder=1.2)
    ms, mt = xy(melt_line)
    ax.plot(ms, mt, color='black', lw=1.2, zorder=1.8)


for i, (letter, obs, prior, mean, hull) in enumerate(panels):
    left = [72, 501, 929][i]
    ax = fig.add_axes([left / W, 50 / H, 407 / W, 430 / H])
    draw_background(ax)

    obs_arr = np.array(obs, dtype=float)
    ax.scatter(obs_arr[:, 0], obs_arr[:, 1], s=44, facecolors='none',
               edgecolors=cmap(norm(obs_arr[:, 2])), linewidths=0.8, zorder=3)

    hs, ht = xy(hull)
    ax.plot(hs, ht, color='#b540c8', lw=1.3, zorder=4)
    ps, pt = xy(prior)
    ax.plot(ps, pt, color='#ababab', lw=2.0, zorder=4.2)
    ss, st = xy(iiw_line)
    ax.plot(ss, st, color='#ff0000', lw=2.0, zorder=4.4)
    bs, bt = xy(mean)
    ax.plot(bs, bt, color='black', lw=2.0, zorder=4.6)
    ax.add_patch(Rectangle((box_sal[0], box_temp[0]), box_sal[1] - box_sal[0],
                           box_temp[1] - box_temp[0], fill=False,
                           edgecolor='#404040', lw=0.9, zorder=4.8))

    ax.text(31.35, 1.0, 'Runoff', fontsize=16.5, fontweight='bold', rotation=5,
            ha='center', va='center', zorder=6)
    ax.text(33.78, 1.19, 'IIW', fontsize=16.5, fontweight='bold', color='#ff0000',
            ha='center', va='center', zorder=6)
    ax.text(33.1, 0.655, 'Melt', fontsize=16.5, fontweight='bold', style='italic',
            rotation=80, ha='center', va='center', zorder=6)

    ax.set_xlim(29.5, 34)
    ax.set_ylim(0.5, 1.5)
    ax.set_xticks([30, 31, 32, 33, 34])
    ax.set_yticks([0.5, 0.75, 1.0, 1.25, 1.5])
    if i == 0:
        ax.set_yticklabels(['0.5', '0.75', '1', '1.25', '1.5'])
        ax.set_ylabel('Pot. Temp ($^\\mathregular{o}$C)', fontsize=12)
    else:
        ax.set_yticklabels([])
    ax.set_xlabel('Salinity (PSU)', fontsize=12, labelpad=2)
    ax.tick_params(direction='in', length=5, width=0.8, top=True, right=True,
                   labelsize=12, colors='#262626', labelcolor='black')
    for sp in ax.spines.values():
        sp.set_color('#262626')
        sp.set_linewidth(0.8)
    ax.text(0.0, 1.014, letter, transform=ax.transAxes, fontsize=24,
            fontweight='bold', ha='left', va='baseline')

cax = fig.add_axes([1358 / W, 50 / H, 14 / W, 430 / H])
cb = fig.colorbar(cm.ScalarMappable(norm=norm, cmap=cmap), cax=cax)
cb.set_ticks([0, 2, 4, 6, 8, 10])
cb.ax.tick_params(direction='in', length=4, labelsize=12, left=True, right=True)
cb.set_label('Turbidity (NTU)', fontsize=12)
cb.outline.set_linewidth(0.8)

fig.savefig('out.png', dpi=100)
